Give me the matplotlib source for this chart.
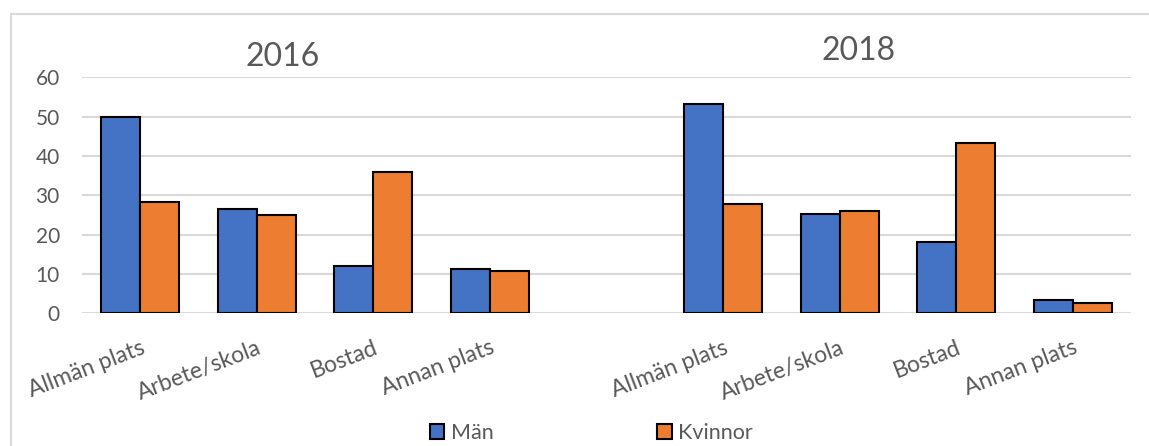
import numpy as np
import matplotlib.pyplot as plt
from matplotlib.patches import Rectangle

plt.rcParams['font.family'] = ['Lato', 'DejaVu Sans']

categories = ['Allmän plats', 'Arbete/skola', 'Bostad', 'Annan plats']
years = ['2016', '2018']
man_2016 = [50.0, 26.6, 12.0, 11.2]
kvinnor_2016 = [28.3, 24.9, 36.0, 10.8]
man_2018 = [53.1, 25.3, 18.1, 3.3]
kvinnor_2018 = [27.9, 26.0, 43.3, 2.7]

blue = '#4472C4'
orange = '#ED7D31'
grey_txt = '#595959'
grid_col = '#D9D9D9'

# 9 slots on the x axis, slot 4 left empty between the years
x_2016 = np.arange(4)
x_2018 = np.arange(5, 9)
w = 0.335

fig = plt.figure(figsize=(11.49, 4.46), dpi=100)
ax = fig.add_axes([82 / 1149, 1 - 313.3 / 446, (1131 - 82) / 1149, (313.3 - 77.3) / 446])

kw = dict(width=w, edgecolor='black', linewidth=1.5, zorder=3)
b1 = ax.bar(x_2016 - w / 2, man_2016, color=blue, **kw)
b2 = ax.bar(x_2016 + w / 2, kvinnor_2016, color=orange, **kw)
ax.bar(x_2018 - w / 2, man_2018, color=blue, **kw)
ax.bar(x_2018 + w / 2, kvinnor_2018, color=orange, **kw)

ax.set_ylim(0, 60)
ax.set_xlim(-0.5, 8.5)
ax.set_yticks(range(0, 61, 10))
ax.yaxis.grid(True, color=grid_col, linewidth=1.5, zorder=0)
ax.set_axisbelow(True)
for s in ['top', 'right', 'left', 'bottom']:
    ax.spines[s].set_visible(False)
ax.tick_params(axis='y', length=0, pad=16, labelsize=15, labelcolor=grey_txt)
ax.tick_params(axis='x', length=0, pad=17, labelsize=16.5, labelcolor=grey_txt)

ax.set_xticks(list(x_2016) + list(x_2018))
ax.set_xticklabels(categories + categories)
plt.setp(ax.get_xticklabels(), rotation=21, ha='right', va='top', rotation_mode='anchor')

fig.text(283 / 1149, 1 - 57 / 446, years[0], ha='center', va='center', fontsize=23, color=grey_txt)
fig.text(859 / 1149, 1 - 51 / 446, years[1], ha='center', va='center', fontsize=23, color=grey_txt)

fig.legend([b1, b2], ['Män', 'Kvinnor'], loc='center left', bbox_to_anchor=(430 / 1149, 1 - 433 / 446),
           ncol=2, frameon=False, fontsize=15.5, handlelength=0.67, handleheight=0.67,
           handletextpad=0.3, columnspacing=7.6, borderpad=0, borderaxespad=0,
           labelcolor=grey_txt)

fig.add_artist(Rectangle((11 / 1149, -0.1), 2, 1 - 14 / 446 + 0.1, transform=fig.transFigure,
                         fill=False, edgecolor=grid_col, linewidth=1.5))

fig.savefig('out.png', dpi=100)
